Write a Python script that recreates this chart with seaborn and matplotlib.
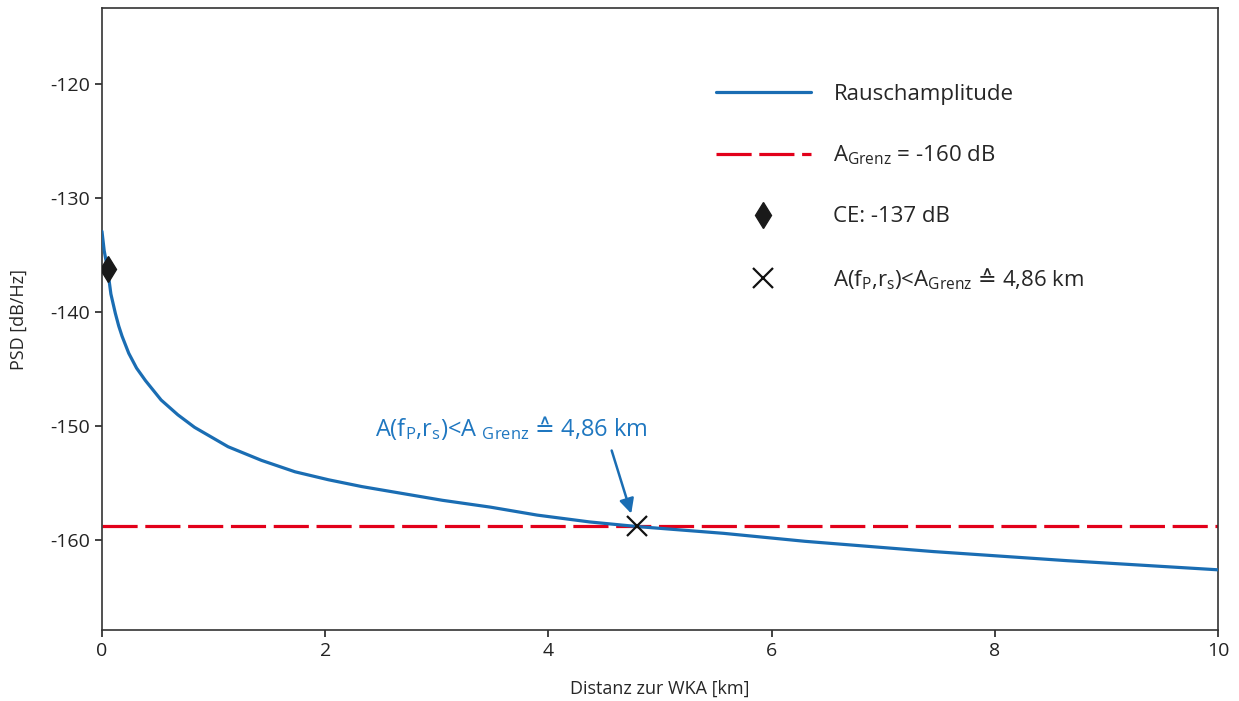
import numpy as np
import pandas as pd
import matplotlib
matplotlib.use("Agg")
import matplotlib.pyplot as plt
import seaborn as sns

dist_km = [0.0, 0.02, 0.05, 0.08, 0.12, 0.15, 0.18, 0.24, 0.31, 0.39, 0.53, 0.68, 0.83, 1.13, 1.43,
           1.73, 2.03, 2.33, 2.63, 3.05, 3.48, 3.9, 4.37, 4.79, 5.57, 6.3, 7.45, 8.65, 10.0]
psd_db = [-132.9, -134.6, -136.2, -138.4, -140.1, -141.2, -142.1, -143.6, -144.9, -146.0, -147.7,
          -149.0, -150.1, -151.8, -153.0, -154.0, -154.7, -155.3, -155.8, -156.5, -157.1, -157.8,
          -158.4, -158.8, -159.4, -160.1, -161.0, -161.8, -162.6]

a_grenz = -158.75
ce_x, ce_y = [0.05], [-136.2]
cross_x, cross_y = [4.79], [-158.8]

x_ticks = [0, 2, 4, 6, 8, 10]
y_ticks = [-160, -150, -140, -130, -120]

blue = "#1a6db3"
red = "#e2001a"

sns.set_style("ticks")
plt.rcParams["font.family"] = ["Open Sans", "DejaVu Sans"]
plt.rcParams["mathtext.default"] = "regular"
plt.rcParams["axes.unicode_minus"] = False

corr = "$\\mathrm{\u2259}$"

df = pd.DataFrame({"dist": dist_km, "psd": psd_db})

fig, ax = plt.subplots(figsize=(12.39, 7.01), dpi=100)
fig.subplots_adjust(left=0.0823, right=0.983, top=0.9886, bottom=0.101)

sns.lineplot(data=df, x="dist", y="psd", color=blue, lw=2.3, ax=ax,
             label="Rauschamplitude", zorder=3)
ax.axhline(a_grenz, color=red, lw=2.3, dashes=(11, 2.4),
           label="A$_{Grenz}$ = -160 dB", zorder=2)
ax.plot(ce_x, ce_y, ls="none", marker="d", ms=13, color="#1a1a1a",
        label="CE: -137 dB", zorder=4)
ax.plot(cross_x, cross_y, ls="none", marker="x", ms=14, mew=1.6, color="#111111",
        label="A(f$_P$,r$_s$)<A$_{Grenz}$ " + corr + " 4,86 km", zorder=4)

# annotation with arrow
ax.text(3.67, -150.2, "A(f$_P$,r$_s$)<A $_{Grenz}$ " + corr + " 4,86 km", color="#1f77c0",
        fontsize=17, ha="center", va="center")
ax.annotate("", xy=(4.75, -157.9), xytext=(4.56, -151.9),
            arrowprops=dict(arrowstyle="-|>", color=blue, lw=1.8, mutation_scale=22))

ax.set_xlim(0, 10)
ax.set_ylim(-167.9, -113.3)
ax.set_xticks(x_ticks)
ax.set_yticks(y_ticks)
ax.tick_params(labelsize=14, length=5, width=1.2, colors="#222222")
for s in ax.spines.values():
    s.set_linewidth(1.2)
    s.set_color("#333333")
ax.set_xlabel("Distanz zur WKA [km]", fontsize=13, labelpad=14)
ax.set_ylabel("PSD [dB/Hz]", fontsize=13, labelpad=16)

ax.legend(loc="upper left", bbox_to_anchor=(0.532, 0.91), frameon=False, fontsize=16,
          handlelength=4.3, handletextpad=1.0, labelspacing=1.75, markerscale=1.0)

fig.savefig("out.png", dpi=100)
